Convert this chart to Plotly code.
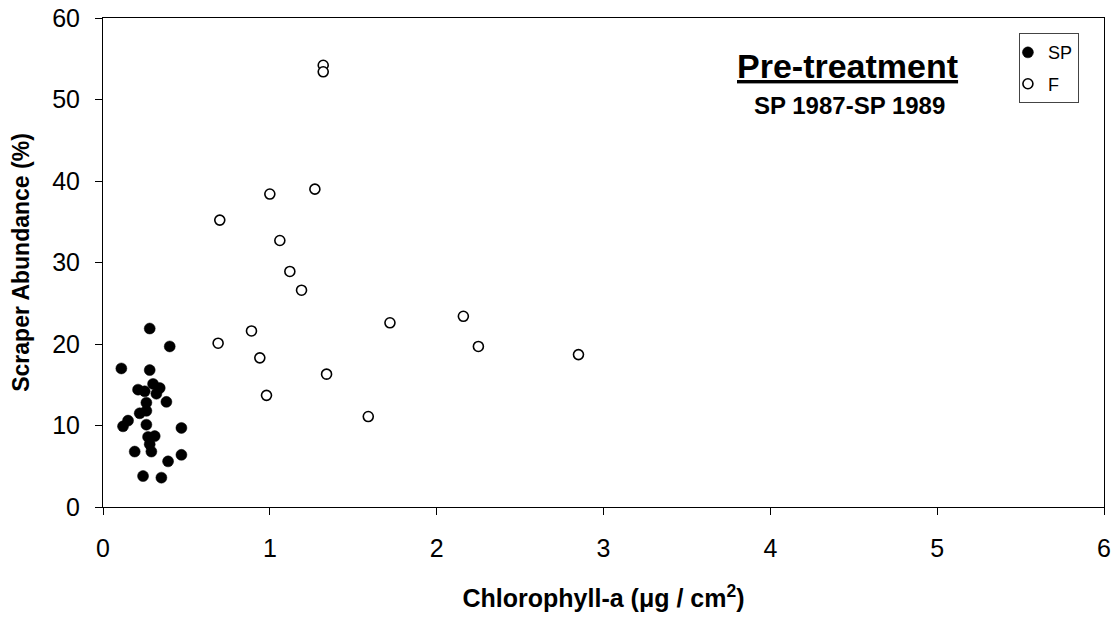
import plotly.graph_objects as go

# Spring (SP) samples: chlorophyll-a vs scraper abundance
sp_chl = [0.28, 0.40, 0.11, 0.28, 0.21, 0.25, 0.30, 0.34, 0.32, 0.38, 0.26, 0.26,
          0.22, 0.15, 0.12, 0.26, 0.47, 0.27, 0.31, 0.28, 0.19, 0.29, 0.47, 0.39,
          0.24, 0.35]
sp_scr = [21.9, 19.7, 17.0, 16.8, 14.4, 14.2, 15.1, 14.6, 13.9, 12.9, 12.8, 11.8,
          11.5, 10.6, 9.9, 10.1, 9.7, 8.6, 8.7, 7.7, 6.8, 6.8, 6.4, 5.6,
          3.8, 3.6]

# Fall (F) samples
f_chl = [1.32, 1.32, 1.00, 1.27, 0.70, 1.06, 1.12, 1.19, 0.89, 0.69, 0.94, 0.98,
         1.34, 1.59, 1.72, 2.16, 2.25, 2.85]
f_scr = [54.2, 53.4, 38.4, 39.0, 35.2, 32.7, 28.9, 26.6, 21.6, 20.1, 18.3, 13.7,
         16.3, 11.1, 22.6, 23.4, 19.7, 18.7]

x_ticks = [0, 1, 2, 3, 4, 5, 6]
y_ticks = [0, 10, 20, 30, 40, 50, 60]

font_family = "Liberation Sans, Arial, sans-serif"

fig = go.Figure()
fig.add_trace(go.Scatter(
    x=sp_chl, y=sp_scr, mode="markers", name="SP", legendgroup="sp",
    marker=dict(symbol="circle", size=11, color="black",
                line=dict(color="black", width=0.5)),
))
fig.add_trace(go.Scatter(
    x=f_chl, y=f_scr, mode="markers", name="F", legendgroup="f",
    marker=dict(symbol="circle", size=10, color="white",
                line=dict(color="black", width=1.6)),
))

axis_common = dict(
    showgrid=False, zeroline=False, showline=True, linecolor="black", linewidth=1,
    mirror=True, ticks="outside", ticklen=7, tickcolor="black", tickwidth=1,
    tickfont=dict(family=font_family, size=25, color="black"),
    automargin=False,
)

fig.update_layout(
    width=1118, height=622,
    margin=dict(l=103, r=14, t=18, b=115),
    paper_bgcolor="white", plot_bgcolor="white",
    font=dict(family=font_family, color="black"),
    xaxis=dict(
        range=[0, 6], tickvals=x_ticks, ticktext=[str(v) for v in x_ticks],
        ticklabelstandoff=12,
        title=dict(text="<b>Chlorophyll-a (μg / cm<sup>2</sup>)</b>",
                   font=dict(family=font_family, size=25, color="black"),
                   standoff=28),
        **axis_common,
    ),
    yaxis=dict(
        range=[0, 60], tickvals=y_ticks, ticktext=[str(v) for v in y_ticks],
        ticklabelstandoff=10,
        title=dict(text="<b>Scraper Abundance (%)</b>",
                   font=dict(family=font_family, size=23, color="black"),
                   standoff=16),
        **axis_common,
    ),
    legend=dict(
        x=0.915, y=0.969, xanchor="left", yanchor="top",
        bordercolor="#444444", borderwidth=1, bgcolor="white",
        font=dict(family=font_family, size=18, color="black"),
        itemsizing="trace", itemwidth=30, tracegroupgap=5, indentation=-12,
    ),
    showlegend=True,
    annotations=[
        dict(text="<b><u>Pre-treatment</u></b>", x=0.744, y=0.901,
             xref="paper", yref="paper", showarrow=False,
             xanchor="center", yanchor="middle",
             font=dict(family=font_family, size=34, color="black")),
        dict(text="<b>SP 1987-SP 1989</b>", x=0.746, y=0.822,
             xref="paper", yref="paper", showarrow=False,
             xanchor="center", yanchor="middle",
             font=dict(family=font_family, size=24, color="black")),
    ],
)

fig.write_html("out.html")
